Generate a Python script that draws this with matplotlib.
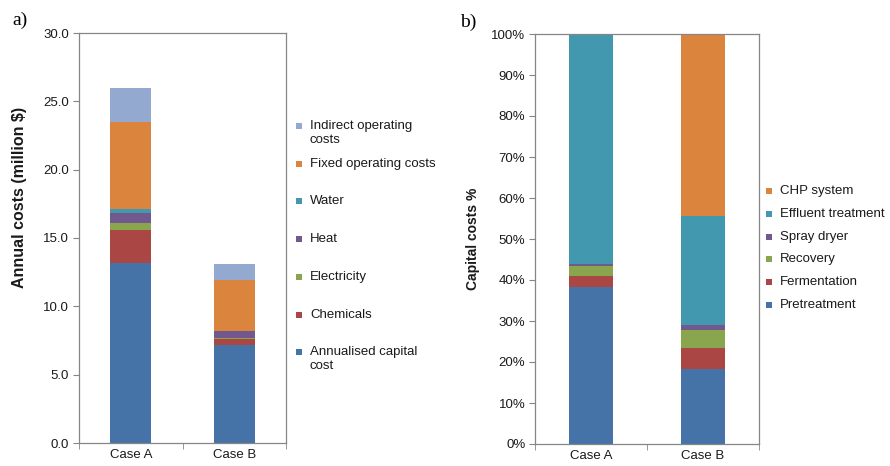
import matplotlib
matplotlib.use("Agg")
import matplotlib.pyplot as plt
from matplotlib.patches import Rectangle
from matplotlib.ticker import FixedLocator, FuncFormatter
import numpy as np

plt.rcParams['font.family'] = ['Liberation Sans', 'DejaVu Sans']

cases = ["Case A", "Case B"]

# a) annual costs, million $ (stacked bottom to top)
annual_series = ["Annualised capital\ncost", "Chemicals", "Electricity", "Heat",
                 "Water", "Fixed operating costs", "Indirect operating\ncosts"]
capital_cost = [13.2, 7.15]
chemicals = [2.4, 0.45]
electricity = [0.5, 0.1]
heat = [0.7, 0.5]
water = [0.3, 0.03]
fixed_operating = [6.4, 3.67]
indirect_operating = [2.5, 1.2]
annual_values = [capital_cost, chemicals, electricity, heat, water,
                 fixed_operating, indirect_operating]

# b) share of capital costs, % (stacked bottom to top)
capital_series = ["Pretreatment", "Fermentation", "Recovery", "Spray dryer",
                  "Effluent treatment", "CHP system"]
pretreatment = [38.4, 18.4]
fermentation = [2.6, 4.9]
recovery = [2.4, 4.4]
spray_dryer = [0.6, 1.4]
effluent_treatment = [56.0, 26.6]
chp_system = [0.0, 44.3]
capital_values = [pretreatment, fermentation, recovery, spray_dryer,
                  effluent_treatment, chp_system]

annual_ticks = [0, 5, 10, 15, 20, 25, 30]
percent_ticks = [0, 10, 20, 30, 40, 50, 60, 70, 80, 90, 100]

BLUE, RED, GREEN, PURPLE = "#4572A7", "#AA4643", "#89A54E", "#71588F"
TEAL, ORANGE, LIGHT = "#4198AF", "#DB843D", "#93A9CF"
annual_colors = [BLUE, RED, GREEN, PURPLE, TEAL, ORANGE, LIGHT]
capital_colors = [BLUE, RED, GREEN, PURPLE, TEAL, ORANGE]

SPINE = "#868686"
TEXT = "#1a1a1a"
FS = 9.5
W, H = 890, 466
fig = plt.figure(figsize=(W / 100, H / 100), dpi=100)


def px_axes(x0, y0, x1, y1):
    return fig.add_axes([x0 / W, 1 - y1 / H, (x1 - x0) / W, (y1 - y0) / H])


def style_axes(ax):
    for s in ax.spines.values():
        s.set_color(SPINE)
        s.set_linewidth(0.9)
    ax.set_xlim(-0.5, 1.5)
    ax.set_xticks(range(len(cases)))
    ax.set_xticklabels(cases, fontsize=FS, color=TEXT)
    ax.xaxis.set_minor_locator(FixedLocator([-0.5, 0.5, 1.5]))
    ax.tick_params(axis="x", which="major", length=0, pad=4)
    ax.tick_params(axis="x", which="minor", length=4, color=SPINE, direction="out")
    ax.tick_params(axis="y", length=4, color=SPINE, direction="out",
                   labelsize=FS, labelcolor=TEXT, pad=3)


def stacked(ax, values, colors):
    x = np.arange(len(cases))
    bottom = np.zeros(len(cases))
    for vals, col in zip(values, colors):
        v = np.array(vals, dtype=float)
        ax.bar(x, v, bottom=bottom, width=0.4, color=col, linewidth=0)
        bottom += v


def manual_legend(labels, colors, x_marker, y_first, step):
    # square key beside the first line of each label, one entry per row
    for i, (lab, col) in enumerate(zip(labels, colors)):
        y = y_first + i * step
        fig.add_artist(Rectangle(((x_marker - 3) / W, 1 - (y + 3) / H), 6 / W, 6 / H,
                                 transform=fig.transFigure, color=col, lw=0))
        fig.text((x_marker + 11) / W, 1 - (y - 6) / H, lab, fontsize=FS,
                 va="top", ha="left", linespacing=1.2, color=TEXT)


# ---- a) annual costs ----
ax1 = px_axes(79, 33, 286, 443)
stacked(ax1, annual_values, annual_colors)
ax1.set_ylim(0, 30)
ax1.set_yticks(annual_ticks)
ax1.yaxis.set_major_formatter(FuncFormatter(lambda v, p: f"{v:.1f}"))
style_axes(ax1)
ax1.set_ylabel("Annual costs (million $)", fontsize=11.5, fontweight="bold",
               color=TEXT)
ax1.yaxis.set_label_coords(-0.25, 0.598)
manual_legend(annual_series[::-1], annual_colors[::-1], 299, 126, 37.7)
fig.text(12 / W, 1 - 20 / H, "a)", fontsize=14, family="Liberation Serif",
         va="center", ha="left")

# ---- b) capital cost shares ----
ax2 = px_axes(535, 34, 759, 444)
stacked(ax2, capital_values, capital_colors)
ax2.set_ylim(0, 100)
ax2.set_yticks(percent_ticks)
ax2.yaxis.set_major_formatter(FuncFormatter(lambda v, p: f"{v:.0f}%"))
style_axes(ax2)
ax2.set_ylabel("Capital costs %", fontsize=10, fontweight="bold", labelpad=8,
               color=TEXT)
manual_legend(capital_series[::-1], capital_colors[::-1], 769, 191, 22.8)
fig.text(460 / W, 1 - 22 / H, "b)", fontsize=14, family="Liberation Serif",
         va="center", ha="left")

fig.savefig("out.png", dpi=100)
